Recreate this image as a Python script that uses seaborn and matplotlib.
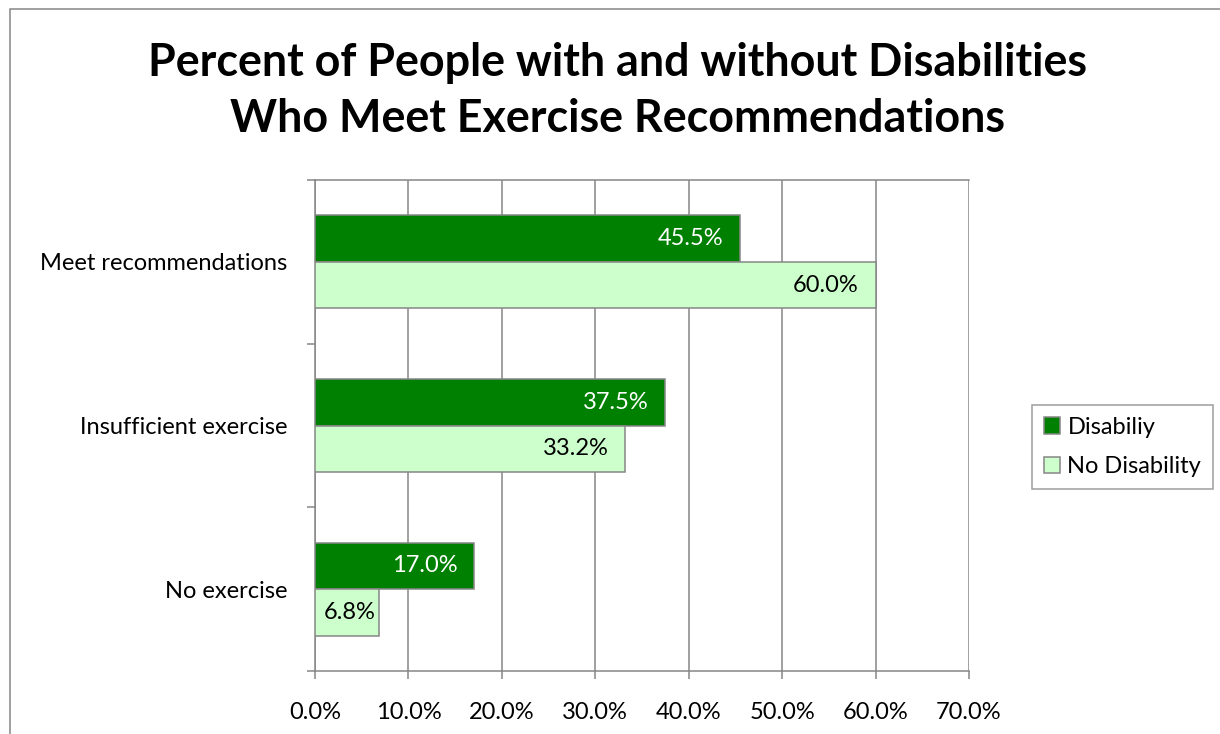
import pandas as pd
import matplotlib
matplotlib.use('Agg')
import matplotlib.pyplot as plt
import seaborn as sns

# Dữ liệu
categories = ['Meet recommendations', 'Insufficient exercise', 'No exercise']
groups = ['Disabiliy', 'No Disability']
disability = [45.5, 37.5, 17.0]
no_disability = [60.0, 33.2, 6.8]
x_ticks = [0, 10, 20, 30, 40, 50, 60, 70]

df = pd.DataFrame({
    'category': categories * 2,
    'group': [groups[0]] * 3 + [groups[1]] * 3,
    'value': disability + no_disability,
})

sns.set_theme(style='white')
plt.rcParams['font.family'] = ['Lato', 'DejaVu Sans']
plt.rcParams['text.color'] = 'black'
plt.rcParams['xtick.color'] = 'black'
plt.rcParams['ytick.color'] = 'black'

gray = '#868686'
colors = ['#008000', '#CCFFCC']
fs = 17

fig = plt.figure(figsize=(12.2, 7.34), dpi=100)
ax = fig.add_axes([315 / 1220, 63 / 734, 654 / 1220, 491 / 734])

sns.barplot(data=df, x='value', y='category', hue='group', order=categories,
            hue_order=groups, palette=colors, saturation=1, orient='h', width=0.57,
            edgecolor=gray, linewidth=1.1, ax=ax, legend=False, zorder=3)

ax.set_xlim(0, 70)
ax.set_ylim(2.5, -0.5)
ax.set_xticks(x_ticks)
ax.set_xticklabels([f'{v:.1f}%' for v in x_ticks], fontsize=fs)
ax.grid(axis='x', color=gray, linewidth=1.1, zorder=0)
ax.set_axisbelow(True)
ax.set_xlabel('')
ax.set_ylabel('')

# nhãn danh mục ở giữa, vạch chia ở ranh giới
ax.set_yticks(range(len(categories)))
ax.set_yticklabels(categories, fontsize=fs)
ax.set_yticks([-0.5, 0.5, 1.5, 2.5], minor=True)
ax.tick_params(axis='y', which='major', length=0, pad=20)
ax.tick_params(axis='y', which='minor', left=True, length=6, width=1.1, color=gray)
ax.tick_params(axis='x', bottom=True, length=6, width=1.1, color=gray, pad=16)

for side in ['left', 'bottom', 'top']:
    ax.spines[side].set_color(gray)
    ax.spines[side].set_linewidth(1.1)
ax.spines['right'].set_visible(False)

# nhãn giá trị
for container, tcolor in zip(ax.containers, ['white', 'black']):
    for patch in container:
        w = patch.get_width()
        off = -2 if w < 10 else -12
        ax.annotate(f'{w:.1f}%', (w, patch.get_y() + patch.get_height() / 2),
                    xytext=(off, 0), textcoords='offset points',
                    ha='right', va='center', color=tcolor, fontsize=fs, zorder=4)

handles = [plt.Rectangle((0, 0), 1, 1, facecolor=c, edgecolor=gray, linewidth=1.1) for c in colors]
leg = ax.legend(handles, groups, loc='center left', bbox_to_anchor=(1032 / 1220, 1 - 447 / 734),
                bbox_transform=fig.transFigure, fontsize=fs, frameon=True, fancybox=False,
                edgecolor=gray, handlelength=0.7, handleheight=0.7, handletextpad=0.3,
                labelspacing=0.8, borderpad=0.5, borderaxespad=0)
leg.get_frame().set_linewidth(1.1)

fig.text(0.506, 1 - 91 / 734,
         'Percent of People with and without Disabilities\nWho Meet Exercise Recommendations',
         ha='center', va='center', fontsize=32.3, fontweight='bold', linespacing=1.42)

# khung ngoài
fig.add_artist(plt.Rectangle((10 / 1220, -0.1), 1.2, 1.1 - 9 / 734, transform=fig.transFigure,
                             fill=False, edgecolor=gray, linewidth=1.1))

fig.savefig('out.png', dpi=100)
